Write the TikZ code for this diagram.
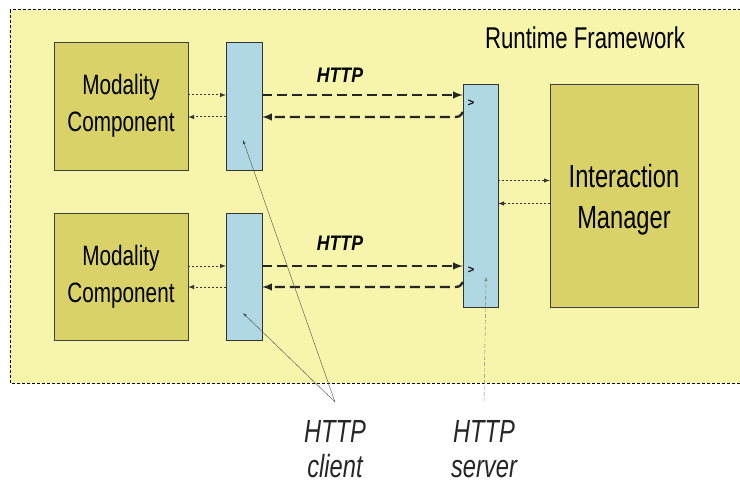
\documentclass[tikz,border=0pt]{standalone}
\usepackage{fontspec}
\setmainfont{Liberation Sans}
\newfontfamily\narrowsans[FakeStretch=0.74]{Liberation Sans}
\newfontfamily\boldnarrow[FakeStretch=0.84]{Liberation Sans}
\usetikzlibrary{arrows,calc,positioning}
\definecolor{rtbg}{RGB}{247,244,172}
\definecolor{modfill}{RGB}{216,210,104}
\definecolor{cltfill}{RGB}{176,216,228}

\begin{document}
\begin{tikzpicture}[
  x=1pt, y=-1pt,
  > = latex,
  modbox/.style = {draw=black!75, fill=modfill, inner sep=0pt, align=center, font=\narrowsans\fontsize{28}{37}\selectfont},
  httpbox/.style = {draw=black!80, fill=cltfill, inner sep=0pt},
  localarrow/.style = {->, line width=1pt, dash pattern=on 2pt off 2pt, black!80},
  httparrow/.style = {->, line width=2.3pt, dash pattern=on 10pt off 5pt, black!85},
  pointer/.style = {->, line width=0.4pt, black!70},
  lbl/.style = {font=\narrowsans\fontsize{32}{35}\selectfont\itshape, align=center, black!85},
  httplbl/.style = {font=\boldnarrow\fontsize{21}{22}\selectfont\bfseries\itshape}
  ]
	\useasboundingbox (0,0) rectangle (740,487);
	\fill[white] (0,0) rectangle (740,487);

	% runtime framework
	\draw[fill=rtbg, line width=1pt, dash pattern=on 3pt off 2pt] (10,10) rectangle (760,383);
	\node (rtf) at (585,38) {\narrowsans\fontsize{30}{32}\selectfont Runtime Framework};

	% components
	\node[modbox, minimum width=134pt, minimum height=128pt] (mc1) at (121,106) {Modality\\Component};
	\node[modbox, minimum width=134pt, minimum height=127pt] (mc2) at (121,276.5) {Modality\\Component};
	\node[httpbox, minimum width=36pt, minimum height=128pt] (cl1) at (244,106) {};
	\node[httpbox, minimum width=36pt, minimum height=127pt] (cl2) at (244,276.5) {};
	\node[httpbox, minimum width=35pt, minimum height=223pt] (srv) at (480.5,195.5) {};
	\node[modbox, minimum width=148pt, minimum height=223pt] (im) at (624,195.5) {};
	\node[align=center, font=\narrowsans\fontsize{32}{41}\selectfont] (imtxt) at ([yshift=-4pt]im.center) {Interaction\\Manager};

	% component <-> client
	\draw[localarrow] ([yshift=11pt]mc1.east) -- ([yshift=11pt]cl1.west);
	\draw[localarrow] ([yshift=-11pt]cl1.west) -- ([yshift=-11pt]mc1.east);
	\draw[localarrow] ([yshift=10.5pt]mc2.east) -- ([yshift=10.5pt]cl2.west);
	\draw[localarrow] ([yshift=-10.5pt]cl2.west) -- ([yshift=-10.5pt]mc2.east);

	% client <-> server
	\draw[httparrow] ([yshift=11pt]cl1.east) -- ([yshift=11pt]cl1.east -| srv.west);
	\draw[httparrow] ([yshift=-6pt]cl1.east -| srv.west) .. controls +(-3pt,-5pt) .. ++(-12pt,-5pt) -- ([yshift=-11pt]cl1.east);
	\draw[httparrow] ([yshift=10.5pt]cl2.east) -- ([yshift=10.5pt]cl2.east -| srv.west);
	\draw[httparrow] ([yshift=-5.5pt]cl2.east -| srv.west) .. controls +(-3pt,-5pt) .. ++(-12pt,-5pt) -- ([yshift=-10.5pt]cl2.east);
	\node[httplbl] (http1) at (340,75) {HTTP};
	\node[httplbl] (http2) at (340,243) {HTTP};
	\node[font=\fontsize{11}{12}\selectfont\bfseries, inner sep=0pt] (gt1) at (471,103) {>};
	\node[font=\fontsize{11}{12}\selectfont\bfseries, inner sep=0pt] (gt2) at (471,270) {>};

	% server <-> interaction manager
	\draw[localarrow] ([yshift=15pt]srv.east) -- ([yshift=15pt]srv.east -| im.west);
	\draw[localarrow] ([yshift=-8pt]srv.east -| im.west) -- ([yshift=-8pt]srv.east);

	% labels below
	\node[lbl] (cltlbl) at (335,449) {HTTP\\client};
	\node[lbl] (srvlbl) at (484,449) {HTTP\\server};
	\coordinate (clttip) at (335,402);
	\coordinate (srvtip) at (484,402);
	\coordinate (cltend1) at (243,140);
	\coordinate (cltend2) at (243,313);
	\coordinate (srvend) at (486,277);
	\draw[pointer] (clttip) -- (cltend1);
	\draw[pointer] (clttip) -- (cltend2);
	\draw[pointer, dash pattern=on 4pt off 2pt, black!50] (srvtip) -- (srvend);

\end{tikzpicture}
\end{document}
